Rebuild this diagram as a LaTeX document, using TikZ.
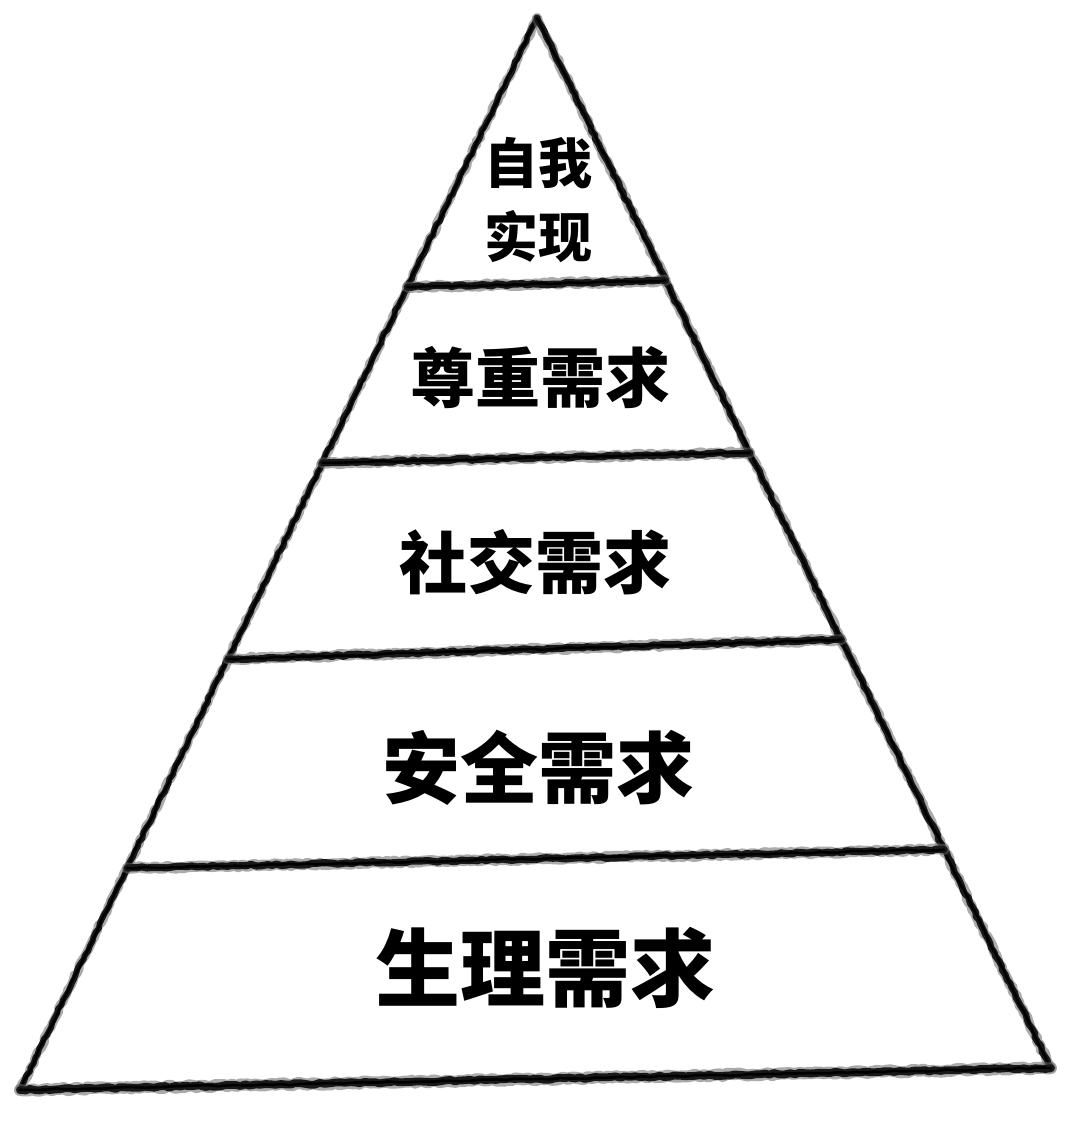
\documentclass[tikz,border=0pt]{standalone}
\usepackage{fontspec}
\newfontfamily\cjk{Noto Sans CJK SC}
\usetikzlibrary{calc,decorations.pathmorphing}
\tikzset{
  passa/.style={draw=black!90, line width=#1, line cap=round, line join=round, decorate,
    decoration={random steps, segment length=5pt, amplitude=1.0pt}},
  passb/.style={draw=black!60, opacity=.55, line width=#1, line cap=round, line join=round, decorate,
    decoration={random steps, segment length=4pt, amplitude=1.2pt}},
  passc/.style={draw=black, line width=2.6pt, line cap=round, line join=round, decorate,
    decoration={random steps, segment length=9pt, amplitude=0.8pt}},
  label/.style={font=\cjk\bfseries, text=black, align=center, inner sep=0pt}
}
\newcommand\sketchline[3]{%
  \draw[passb=#3] (#1) -- (#2);
  \draw[passa=#3*0.65] (#1) -- (#2);
  \draw[passc] (#1) -- (#2);}
\begin{document}
\begin{tikzpicture}[x=1pt,y=-1pt]
\pgfmathsetseed{7}
\useasboundingbox[fill=white] (0,0) rectangle (1080,1121);
\coordinate (A) at (537,18);
\coordinate (BL) at (20,1090);
\coordinate (BR) at (1051,1068);
\coordinate (L1) at ($(A)!0.251!(BL)$);
\coordinate (R1) at ($(A)!0.250!(BR)$);
\coordinate (L2) at ($(A)!0.415!(BL)$);
\coordinate (R2) at ($(A)!0.414!(BR)$);
\coordinate (L3) at ($(A)!0.598!(BL)$);
\coordinate (R3) at ($(A)!0.592!(BR)$);
\coordinate (L4) at ($(A)!0.793!(BL)$);
\coordinate (R4) at ($(A)!0.792!(BR)$);
% sides
\sketchline{A}{BL}{9pt}
\sketchline{A}{BR}{10pt}
% dividers and base
\sketchline{L1}{R1}{11pt}
\sketchline{L2}{R2}{11pt}
\sketchline{L3}{R3}{11pt}
\sketchline{L4}{R4}{11pt}
\sketchline{BL}{BR}{12pt}
% labels
\node[label, font=\cjk\bfseries\fontsize{54}{74}\selectfont] (t1) at (538,200) {自我\\实现};
\node[label, font=\cjk\bfseries\fontsize{65}{78}\selectfont] (t2) at (540,378) {尊重需求};
\node[label, font=\cjk\bfseries\fontsize{68}{80}\selectfont] (t3) at (535,562) {社交需求};
\node[label, font=\cjk\bfseries\fontsize{78}{90}\selectfont] (t4) at (538,768) {安全需求};
\node[label, font=\cjk\bfseries\fontsize{85}{100}\selectfont] (t5) at (545,968) {生理需求};
\end{tikzpicture}
\end{document}
